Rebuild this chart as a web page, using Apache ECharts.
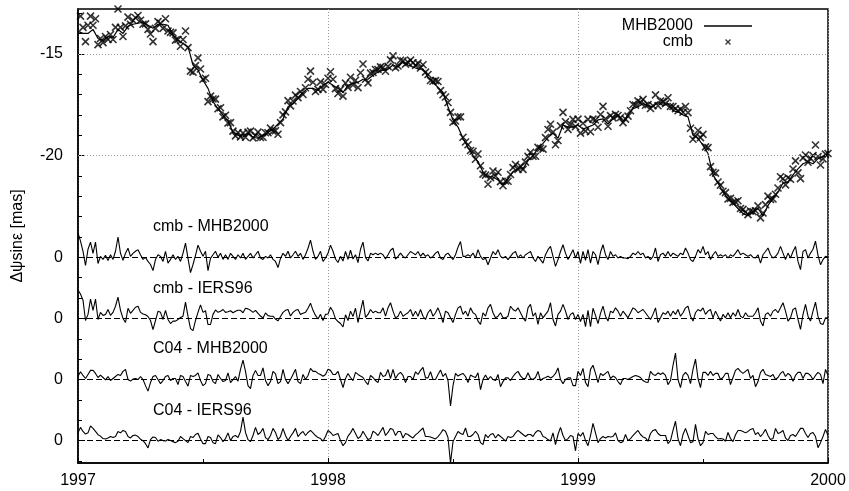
<!DOCTYPE html>
<html>
<head>
<meta charset="utf-8">
<script src="https://cdn.jsdelivr.net/npm/echarts@6/dist/echarts.min.js"></script>
<style>
html, body { margin: 0; padding: 0; background: #fff; }
#main { width: 849px; height: 491px; }
</style>
</head>
<body>
<div id="main"></div>
<script>
// time grid: MHB2000 every 0.02 yr, everything else every 0.01 yr, from 1997.0
var startYear = 1997;
var mhbStep = 0.02;
var resStep = 0.01;

// MHB2000 model curve [mas]
var mhb2000 = [
  -13.9, -14.0, -14.0, -13.8, -14.25, -14.35, -14.15, -14.2, -13.8, -14.0,
  -13.65, -13.55, -13.5, -13.45, -13.6, -13.75, -13.55, -13.55, -13.6, -14.1,
  -14.35, -14.5, -14.65, -15.55, -15.8, -16.3, -16.7, -17.35, -17.7, -18.0,
  -18.3, -18.85, -19.0, -19.1, -18.9, -19.1, -19.15, -19.0, -18.85, -18.7,
  -18.45, -18.2, -17.6, -17.45, -17.2, -16.9, -16.7, -16.7, -16.8, -16.55,
  -16.4, -16.55, -16.7, -16.9, -16.55, -16.45, -16.4, -16.25, -16.25, -16.05,
  -15.9, -15.8, -15.75, -15.55, -15.65, -15.4, -15.55, -15.65, -15.75, -15.75,
  -16.15, -16.4, -16.65, -16.9, -17.6, -18.25, -18.6, -19.15, -19.6, -20.0,
  -20.3, -20.8, -21.05, -21.05, -21.2, -21.45, -21.15, -20.8, -20.65, -20.65,
  -20.25, -20.0, -19.65, -19.4, -19.1, -18.9, -19.15, -18.5, -18.6, -18.6,
  -18.5, -18.7, -18.6, -18.5, -18.25, -18.2, -18.45, -18.2, -18.0, -18.35,
  -18.0, -17.7, -17.6, -17.45, -17.55, -17.6, -17.35, -17.55, -17.45, -17.8,
  -17.85, -18.0, -18.1, -19.0, -19.15, -19.5, -19.9, -20.95, -21.35, -21.8,
  -22.1, -22.35, -22.6, -22.85, -22.95, -22.75, -22.6, -22.95, -22.45, -22.1,
  -21.8, -21.35, -21.3, -20.95, -20.65, -20.4, -20.3, -20.4, -20.15, -20.05, -19.9
];

// cmb observed series [mas]
var cmb = [
  -12.7, -13.15, -13.7, -14.4, -13.6, -13.15, -13.6, -13.28, -14.55, -14.25,
  -14.45, -14.15, -14.3, -14.05, -14.3, -13.7, -12.8, -13.7, -14.15, -13.63,
  -13.2, -13.55, -13.35, -13.23, -13.12, -13.35, -13.55, -13.53, -13.8, -14.03,
  -14.4, -13.75, -13.42, -13.5, -13.75, -13.28, -13.88, -13.95, -13.97, -14.33,
  -14.3, -14.63, -14.3, -13.88, -14.7, -15.85, -15.9, -15.58, -15.2, -15.75,
  -16.25, -16.2, -17.35, -17.08, -17.22, -17.23, -17.7, -17.65, -18.1, -18.02,
  -18.4, -18.38, -18.8, -19.03, -18.87, -19.08, -18.9, -19.1, -18.85, -18.8,
  -19.13, -19.0, -18.85, -19.11, -19.1, -18.88, -18.88, -18.65, -18.8, -18.78,
  -18.95, -18.38, -18.0, -17.85, -17.3, -17.56, -17.32, -17.03, -17.15, -16.85,
  -17.0, -16.67, -16.25, -15.85, -16.4, -16.85, -16.75, -16.38, -16.75, -16.51,
  -16.2, -15.88, -16.25, -16.71, -16.95, -16.75, -17.08, -16.44, -16.65, -16.15,
  -16.53, -16.3, -16.66, -15.93, -15.5, -16.25, -16.43, -15.95, -15.92, -15.77,
  -15.77, -15.64, -15.67, -15.86, -15.62, -15.3, -15.1, -15.68, -15.6, -15.32,
  -15.35, -15.51, -15.42, -15.31, -15.44, -15.57, -15.46, -15.7, -15.54, -15.9,
  -16.02, -16.31, -16.35, -16.32, -16.36, -16.81, -17.01, -17.12, -17.39, -17.88,
  -18.36, -18.3, -18.1, -18.1, -19.1, -19.33, -19.47, -19.75, -19.79, -20.18,
  -19.92, -20.5, -20.91, -20.96, -21.41, -21.08, -20.76, -21.0, -20.82, -21.28,
  -21.48, -21.25, -21.26, -20.93, -20.59, -20.44, -20.68, -20.52, -20.68, -20.32,
  -20.04, -19.84, -20.03, -20.03, -19.6, -19.64, -19.68, -19.12, -18.72, -18.46,
  -18.85, -19.47, -19.26, -18.54, -17.88, -18.34, -18.71, -18.47, -18.22, -18.58,
  -18.21, -18.9, -18.41, -18.8, -18.22, -18.83, -18.21, -18.25, -18.61, -17.98,
  -17.58, -18.2, -18.56, -18.04, -18.15, -17.97, -18.03, -18.13, -18.38, -18.21,
  -18.06, -17.8, -17.49, -17.52, -17.31, -17.4, -17.24, -17.53, -17.5, -17.69,
  -17.55, -17.02, -17.55, -17.32, -17.34, -17.45, -17.16, -17.58, -17.59, -17.7,
  -17.8, -17.72, -17.87, -17.59, -17.89, -18.66, -19.2, -19.03, -18.77, -19.12,
  -18.96, -19.57, -19.61, -20.54, -20.82, -20.86, -21.3, -21.45, -21.75, -21.82,
  -22.13, -22.1, -22.3, -22.27, -22.22, -22.6, -22.64, -22.77, -22.9, -22.72,
  -22.75, -22.71, -22.47, -23.06, -22.82, -22.41, -21.99, -22.15, -22.13, -21.9,
  -21.59, -21.04, -21.14, -21.44, -21.09, -21.16, -20.66, -20.26, -20.85, -21.13,
  -20.11, -19.97, -20.33, -20.14, -20.0, -19.48, -20.05, -20.46, -20.16, -19.93, -19.9
];

// residuals [mas]
var cmbMinusMhb = [
  1.2, 0.8, 0.3, -0.4, 0.4, 0.75, 0.2, 0.75, -0.3, 0.05,
  -0.1, 0.1, -0.15, 0.13, -0.1, 0.3, 1.0, 0.2, -0.15, 0.2,
  0.45, 0.05, 0.2, 0.3, 0.38, 0.13, -0.1, 0.0, -0.2, -0.35,
  -0.65, -0.1, 0.13, 0.05, -0.2, 0.3, -0.28, -0.1, 0.13, -0.1,
  0.05, -0.2, 0.2, 0.7, -0.05, -0.75, -0.35, 0.1, 0.6, 0.3,
  0.05, 0.3, -0.65, -0.05, 0.13, 0.3, 0.0, 0.2, -0.1, 0.13,
  -0.1, 0.2, 0.05, -0.1, 0.13, -0.03, 0.2, -0.1, 0.05, 0.2,
  -0.03, 0.13, 0.3, -0.03, -0.1, 0.05, -0.03, 0.13, -0.1, -0.2,
  -0.5, -0.05, 0.2, 0.05, 0.3, -0.03, 0.13, 0.3, 0.05, 0.2,
  -0.1, 0.13, 0.45, 0.85, 0.3, -0.1, 0.05, 0.3, -0.2, -0.03,
  0.2, 0.6, 0.3, -0.08, -0.25, 0.05, -0.18, 0.29, -0.1, 0.35,
  -0.08, 0.13, -0.26, 0.4, 0.75, 0.0, -0.18, 0.2, 0.13, 0.21,
  0.13, 0.21, 0.13, -0.08, 0.13, 0.35, 0.45, -0.08, 0.05, 0.21,
  0.05, -0.03, 0.13, 0.29, 0.21, 0.13, 0.29, 0.05, 0.21, 0.05,
  0.13, -0.03, 0.05, 0.21, 0.29, -0.03, -0.11, 0.13, 0.21, 0.05,
  -0.11, 0.13, 0.5, 0.78, 0.05, 0.05, 0.13, 0.05, 0.21, -0.03,
  0.38, 0.05, -0.11, -0.03, -0.36, -0.03, 0.29, 0.13, 0.38, 0.05,
  -0.03, 0.05, -0.11, 0.05, 0.21, 0.29, -0.03, 0.13, -0.03, 0.13,
  0.21, 0.29, -0.03, -0.2, 0.05, -0.11, -0.28, 0.13, 0.38, 0.54,
  0.05, -0.44, -0.11, 0.29, 0.62, 0.21, -0.11, 0.13, 0.38, -0.03,
  0.29, -0.3, 0.29, -0.15, 0.38, -0.28, 0.29, 0.13, -0.36, 0.25,
  0.62, 0.13, -0.11, 0.29, 0.05, 0.13, -0.03, 0.05, -0.03, -0.03,
  -0.06, 0.05, 0.21, 0.13, 0.29, 0.13, 0.21, -0.03, 0.05, -0.11,
  0.05, 0.46, -0.2, 0.13, 0.21, 0.05, 0.29, 0.05, 0.21, 0.13,
  0.05, 0.21, 0.13, 0.46, 0.21, -0.11, -0.2, 0.05, 0.38, 0.21,
  0.54, 0.13, 0.29, -0.11, 0.13, 0.29, 0.05, 0.13, 0.05, 0.13,
  -0.03, 0.13, 0.05, 0.21, 0.38, 0.13, 0.21, 0.13, 0.05, 0.13,
  0.0, -0.03, 0.13, -0.28, 0.13, 0.29, 0.46, 0.13, -0.03, 0.05,
  0.21, 0.54, 0.21, -0.11, 0.21, -0.03, 0.29, 0.54, -0.2, -0.6,
  0.29, 0.38, -0.03, 0.21, 0.4, 0.8, 0.1, -0.36, -0.11, 0.05, 0.0
];

var cmbMinusIers = [
  1.4, 1.2, 0.9, -0.1, 0.2, 0.95, 0.4, 0.95, -0.05, 0.3,
  0.15, 0.2, 0.44, 0.15, 0.3, 0.6, 1.05, 0.4, 0.0, -0.2,
  0.5, 0.25, 0.4, 0.55, 0.6, 0.3, 0.22, 0.18, 0.1, -0.1,
  -0.55, -0.1, 0.35, 0.3, -0.05, 0.4, -0.05, -0.25, -0.13, -0.13,
  -0.05, 0.05, 0.11, 0.8, 0.1, -0.5, -0.6, -0.1, 0.3, 0.67,
  0.3, 0.38, -0.3, -0.3, 0.2, 0.42, 0.3, 0.35, 0.44, 0.3,
  0.33, 0.38, 0.28, 0.35, 0.4, 0.4, 0.28, 0.5, 0.47, 0.4,
  0.3, 0.4, 0.25, 0.12, 0.02, 0.27, 0.14, 0.11, 0.11, -0.03,
  -0.12, 0.1, 0.3, 0.4, 0.44, 0.12, 0.3, 0.4, 0.44, 0.2,
  0.25, 0.3, 0.5, 0.75, 0.4, 0.15, -0.03, 0.2, -0.1, 0.2,
  0.22, 0.55, 0.35, -0.02, -0.15, -0.25, -0.42, 0.18, -0.1, 0.36,
  0.1, 0.5, -0.2, 0.36, 0.9, 0.05, 0.2, 0.44, 0.28, 0.36,
  0.28, 0.28, 0.52, 0.11, 0.52, 0.77, 0.36, 0.03, 0.11, 0.36,
  0.11, 0.2, 0.28, 0.44, 0.11, 0.36, 0.11, 0.44, 0.11, -0.05,
  0.28, 0.44, 0.11, 0.28, 0.52, 0.2, -0.2, 0.36, 0.28, 0.03,
  -0.2, 0.2, 0.52, 0.6, 0.2, 0.36, 0.11, 0.52, 0.28, 0.2,
  -0.13, -0.29, 0.28, 0.11, 0.52, 0.69, 0.28, 0.03, 0.11, 0.28,
  0.03, 0.03, 0.11, 0.6, 0.44, 0.36, 0.52, 0.28, 0.03, -0.13,
  0.52, 0.69, 0.11, 0.28, -0.29, 0.28, 0.03, 0.2, 0.36, 0.77,
  -0.05, -0.37, 0.2, 0.36, 0.69, 0.36, -0.05, 0.2, 0.28, -0.05,
  0.2, -0.15, 0.2, -0.4, 0.4, -0.4, 0.5, 0.15, -0.25, 0.25,
  0.6, 0.11, -0.13, 0.36, 0.28, 0.52, 0.36, 0.11, 0.36, 0.2,
  0.03, 0.28, 0.52, 0.44, 0.28, 0.36, 0.44, 0.28, 0.11, -0.05,
  0.2, 0.52, -0.2, 0.03, 0.28, 0.2, 0.36, 0.11, 0.36, 0.2,
  0.44, 0.11, 0.28, 0.52, 0.6, 0.11, -0.13, 0.28, 0.44, 0.36,
  0.52, 0.2, 0.36, 0.44, 0.03, 0.36, 0.11, -0.13, 0.2, 0.03,
  0.28, 0.03, 0.28, 0.11, 0.44, 0.11, 0.03, 0.28, 0.11, 0.11,
  0.11, 0.28, 0.52, -0.13, -0.37, 0.2, 0.28, 0.11, 0.36, 0.44,
  0.28, 0.52, 0.77, 0.36, -0.13, 0.03, 0.44, 0.52, -0.05, -0.54,
  0.2, 0.69, 0.11, -0.13, 0.36, 0.8, 0.1, -0.25, -0.3, 0.03, 0.03
];

var c04MinusMhb = [
  0.16, 0.38, 0.2, 0.05, 0.25, 0.45, 0.45, 0.3, 0.1, 0.22,
  0.1, -0.02, 0.15, -0.05, 0.05, 0.15, 0.25, 0.2, 0.4, 0.5,
  0.0, -0.08, 0.02, 0.05, 0.0, 0.15, 0.0, -0.3, -0.57, -0.15,
  0.15, 0.2, 0.0, -0.2, -0.05, 0.15, 0.2, -0.05, 0.05, 0.05,
  -0.25, 0.2, 0.15, -0.1, -0.33, 0.2, 0.15, 0.2, 0.33, -0.05,
  -0.3, -0.2, 0.25, 0.2, -0.1, -0.2, 0.25, 0.05, -0.1, -0.05,
  0.33, -0.15, 0.0, 0.15, -0.08, 0.5, 0.95, 0.4, -0.3, -0.45,
  0.2, 0.45, 0.2, 0.2, 0.57, -0.05, -0.3, -0.1, 0.4, 0.28,
  -0.2, -0.1, 0.5, 0.0, -0.2, 0.0, 0.25, 0.5, -0.1, -0.2,
  0.25, 0.0, 0.2, 0.55, 0.4, 0.4, 0.3, 0.25, 0.16, 0.25,
  0.5, 0.45, 0.25, 0.25, 0.4, 0.0, -0.4, 0.05, 0.3, 0.1,
  -0.05, 0.35, 0.25, 0.17, 0.1, -0.1, -0.25, 0.2, 0.1, -0.05,
  -0.15, 0.35, 0.15, 0.2, 0.49, 0.05, 0.5, 0.05, 0.25, 0.35,
  0.2, -0.15, 0.15, 0.15, 0.0, 0.38, 0.25, 0.45, 0.6, 0.08,
  0.08, 0.38, 0.0, 0.0, 0.25, 0.47, 0.15, 0.3, -0.05, -1.3,
  -0.3, 0.3, 0.17, 0.25, 0.3, 0.15, -0.15, 0.22, 0.15, 0.1,
  0.33, -0.5, 0.0, 0.22, 0.0, 0.15, 0.0, -0.05, 0.25, -0.35,
  -0.1, 0.08, 0.08, -0.05, 0.15, 0.3, 0.4, 0.18, 0.05, 0.05,
  0.33, 0.05, 0.0, 0.1, 0.4, -0.05, 0.05, 0.1, 0.16, 0.08,
  0.15, 0.3, 0.57, 0.0, -0.2, 0.0, 0.08, 0.08, -0.3, -0.3,
  0.4, 0.2, 0.55, -0.15, -0.35, 0.5, 0.7, 0.3, -0.15, 0.3,
  0.2, 0.3, 0.4, 0.05, 0.17, 0.1, -0.1, -0.25, 0.05, 0.05,
  0.0, 0.08, 0.15, 0.2, 0.16, 0.1, -0.05, -0.12, -0.15, 0.4,
  0.25, 0.2, 0.33, 0.25, 0.33, 0.2, -0.25, -0.05, 0.7, 1.3,
  0.0, -0.4, 0.2, 0.35, 0.2, -0.2, 0.5, 1.0, 0.05, -0.4,
  0.35, 0.35, 0.2, 0.4, 0.2, 0.3, 0.3, 0.0, 0.1, 0.3,
  0.3, -0.25, 0.1, 0.45, 0.55, 0.4, 0.3, 0.4, 0.5, 0.05,
  0.2, -0.35, -0.1, 0.35, 0.5, 0.25, 0.2, 0.15, 0.25, 0.0,
  0.1, 0.3, 0.4, 0.15, 0.3, 0.2, -0.08, 0.2, 0.35, 0.35,
  0.05, 0.3, 0.3, 0.2, 0.0, 0.2, 0.35, 0.25, -0.2, 0.5, 0.2
];

var c04MinusIers = [
  0.38, 0.65, 0.45, 0.32, 0.38, 0.72, 0.6, 0.45, 0.29, 0.22,
  0.1, 0.08, 0.13, 0.2, 0.15, 0.2, 0.45, 0.38, 0.5, 0.45,
  0.2, 0.13, 0.25, 0.27, 0.2, 0.07, 0.0, -0.15, -0.36, 0.05,
  0.18, 0.15, -0.03, 0.05, 0.0, -0.02, 0.05, 0.0, -0.05, -0.1,
  -0.03, 0.2, 0.1, 0.0, -0.1, 0.2, 0.15, 0.3, 0.36, 0.08,
  -0.15, -0.15, 0.2, 0.15, -0.1, -0.15, 0.28, 0.15, -0.05, 0.1,
  0.38, 0.0, 0.2, 0.25, 0.15, 0.45, 1.15, 0.4, 0.05, -0.05,
  0.25, 0.65, 0.3, 0.4, 0.6, 0.15, 0.05, 0.25, 0.6, 0.4,
  0.05, 0.2, 0.6, 0.25, 0.0, 0.2, 0.38, 0.6, 0.2, 0.35,
  0.45, 0.25, 0.4, 0.5, 0.38, 0.25, 0.15, 0.1, -0.03, 0.2,
  0.5, 0.4, 0.25, 0.3, 0.35, 0.0, -0.25, -0.1, 0.22, 0.38,
  0.6, 0.35, 0.1, 0.2, 0.46, 0.25, 0.05, 0.1, 0.46, 0.38,
  0.25, 0.45, 0.65, 0.25, 0.4, 0.6, 0.54, 0.25, 0.45, 0.45,
  0.13, 0.35, 0.3, 0.2, 0.13, 0.28, 0.38, 0.5, 0.62, 0.2,
  0.2, 0.18, 0.13, 0.08, 0.2, 0.35, 0.54, 0.46, 0.15, -1.1,
  -0.05, 0.2, 0.45, 0.35, 0.3, 0.62, 0.2, 0.2, 0.3, 0.46,
  0.3, -0.1, -0.2, 0.3, 0.15, 0.3, 0.35, 0.13, 0.3, 0.2,
  0.1, -0.03, 0.2, 0.15, 0.2, 0.38, 0.5, 0.4, 0.3, 0.2,
  0.3, 0.3, 0.2, 0.4, 0.5, 0.45, 0.2, 0.15, 0.05, -0.02,
  0.38, -0.2, 0.3, 0.65, 0.25, 0.0, 0.1, 0.25, 0.2, -0.5,
  0.35, 0.22, 0.4, 0.0, -0.25, 0.25, 0.85, 0.38, -0.1, 0.1,
  0.2, 0.13, 0.2, 0.18, 0.2, 0.38, 0.0, -0.1, -0.05, 0.3,
  0.0, 0.1, 0.25, 0.38, 0.5, 0.3, 0.18, 0.13, -0.03, 0.35,
  0.5, 0.54, 0.35, 0.25, 0.25, 0.25, -0.15, 0.0, 0.5, 0.95,
  0.1, -0.25, 0.3, 0.6, 0.25, -0.1, -0.05, 0.8, 0.1, -0.25,
  -0.1, 0.45, 0.3, 0.35, 0.35, 0.2, 0.08, 0.1, 0.08, -0.03,
  0.4, 0.1, -0.05, 0.29, 0.5, 0.5, 0.45, 0.38, 0.45, 0.55,
  0.6, 0.29, 0.4, 0.2, 0.35, 0.55, 0.25, 0.05, 0.1, 0.6,
  0.35, 0.4, 0.5, 0.13, 0.0, 0.25, 0.3, 0.2, 0.4, 0.6,
  0.6, 0.35, 0.15, 0.35, 0.4, 0.2, -0.35, -0.1, 0.2, 0.55, 0.25
];

// residual panels: name, data, where its zero sits on the common axis
var panelNames = ['cmb - MHB2000', 'cmb - IERS96', 'C04 - MHB2000', 'C04 - IERS96'];
var panelData = [cmbMinusMhb, cmbMinusIers, c04MinusMhb, c04MinusIers];
var panelZero = [-25, -28, -31, -34];

var yLabelValues = [-15, -20, -25, -28, -31, -34];
var gridLineValues = [-15, -20];

var FONT = '"Liberation Sans", Arial, Helvetica, sans-serif';
var crossPath = 'path://M0,0L10,10M10,0L0,10';
var lineIconPath = 'path://M0,0L48,0L48,1.5L0,1.5Z';

function timeOf(i, step) {
    return +(startYear + i * step).toFixed(3);
}

function pairs(values, step, shift) {
    var out = [];
    for (var i = 0; i < values.length; i++) {
        out.push([timeOf(i, step), values[i] + (shift || 0)]);
    }
    return out;
}

var minorTicks = [];
for (var v = -35; v <= -13; v++) minorTicks.push(v);

var myChart = echarts.init(document.getElementById('main'), null, {renderer: 'canvas'});

var series = [
    {
        name: 'MHB2000',
        type: 'line',
        data: pairs(mhb2000, mhbStep),
        symbol: 'none',
        itemStyle: {color: '#000'},
        lineStyle: {color: '#000', width: 1.2},
        z: 3,
        markLine: {
            silent: true,
            symbol: 'none',
            label: {show: false},
            lineStyle: {color: '#9a9a9a', width: 1, type: [1, 2]},
            data: gridLineValues.map(function (g) { return {yAxis: g}; })
        }
    },
    {
        name: 'cmb',
        type: 'scatter',
        data: pairs(cmb, resStep),
        symbol: crossPath,
        symbolSize: 7,
        itemStyle: {color: '#000', borderColor: '#000', borderWidth: 1.6},
        z: 4
    }
];

for (var p = 0; p < panelData.length; p++) {
    series.push({
        name: panelNames[p],
        type: 'line',
        data: pairs(panelData[p], resStep, panelZero[p]),
        symbol: 'none',
        itemStyle: {color: '#000'},
        lineStyle: {color: '#000', width: 1.1},
        markLine: {
            silent: true,
            symbol: 'none',
            label: {show: false},
            lineStyle: {color: '#000', width: 1, type: [6, 3]},
            data: [{yAxis: panelZero[p]}]
        }
    });
}

var yBase = {
    type: 'value',
    min: -35.1,
    max: -12.8,
    position: 'left',
    splitLine: {show: false}
};

var option = {
    animation: false,
    backgroundColor: '#fff',
    textStyle: {fontFamily: FONT},
    grid: {
        left: 78,
        right: 21,
        top: 9,
        bottom: 28,
        show: true,
        borderColor: '#000',
        borderWidth: 1.5,
        containLabel: false
    },
    legend: {
        data: [
            {name: 'MHB2000', icon: lineIconPath},
            {name: 'cmb', icon: crossPath, itemStyle: {borderWidth: 1.3}}
        ],
        orient: 'vertical',
        align: 'right',
        right: 92,
        top: 13,
        itemWidth: 48,
        itemHeight: 5,
        itemGap: 0,
        selectedMode: false,
        textStyle: {fontSize: 16, color: '#000', fontFamily: FONT, padding: [0, 6, 0, 0]}
    },
    xAxis: {
        type: 'value',
        min: 1997,
        max: 2000,
        interval: 1,
        axisLine: {lineStyle: {color: '#000', width: 1.5}},
        axisTick: {inside: true, length: 5, lineStyle: {color: '#000'}},
        minorTick: {show: true, splitNumber: 2, length: 4, lineStyle: {color: '#000'}},
        splitLine: {show: true, lineStyle: {color: '#9a9a9a', width: 1, type: [1, 2]}},
        axisLabel: {
            fontSize: 16,
            color: '#000',
            margin: 10,
            fontFamily: FONT,
            formatter: function (val) { return String(val); }
        }
    },
    yAxis: [
        Object.assign({}, yBase, {
            name: 'Δψsinε [mas]',
            nameLocation: 'middle',
            nameRotate: 90,
            nameGap: 52,
            nameTextStyle: {fontSize: 16, color: '#000', fontFamily: FONT},
            axisLine: {show: true, lineStyle: {color: '#000', width: 1.5}},
            axisTick: {show: true, inside: true, length: 4, customValues: minorTicks, lineStyle: {color: '#000'}},
            axisLabel: {
                show: true,
                customValues: yLabelValues,
                fontSize: 16,
                color: '#000',
                margin: 15,
                fontFamily: FONT,
                formatter: function (val) { return val <= -25 ? '0' : String(val); }
            }
        }),
        Object.assign({}, yBase, {
            axisLine: {show: false},
            axisTick: {show: true, inside: true, length: 7, customValues: yLabelValues, lineStyle: {color: '#000'}},
            axisLabel: {show: false}
        })
    ],
    graphic: panelNames.map(function (txt, k) {
        var centers = [227, 289, 349, 411];
        return {
            type: 'text',
            x: 153,
            y: centers[k],
            silent: true,
            style: {
                text: txt,
                fill: '#000',
                font: '16px ' + FONT,
                verticalAlign: 'middle'
            }
        };
    }),
    series: series
};

myChart.setOption(option);
</script>
</body>
</html>
